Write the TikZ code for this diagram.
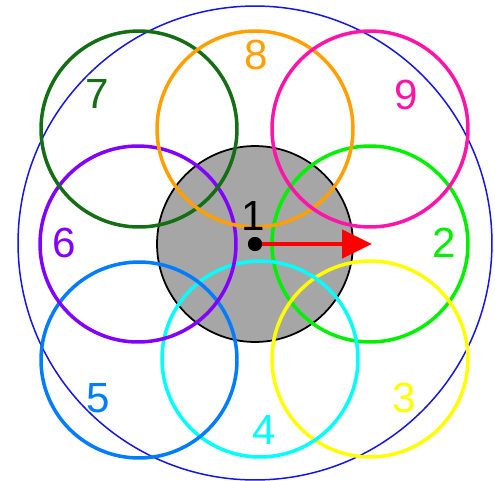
\documentclass[tikz,border=0pt]{standalone}
\usepackage{fontspec}
\setmainfont{Liberation Sans}
\usepackage{tikz}
\usetikzlibrary{arrows.meta}

\definecolor{outerblue}{RGB}{20,20,230}
\definecolor{coregray}{RGB}{166,166,166}
\definecolor{ctwo}{RGB}{0,240,0}
\definecolor{cthree}{RGB}{255,255,0}
\definecolor{cfour}{RGB}{0,255,255}
\definecolor{cfive}{RGB}{0,125,255}
\definecolor{csix}{RGB}{130,0,255}
\definecolor{cseven}{RGB}{20,110,20}
\definecolor{ceight}{RGB}{255,160,0}
\definecolor{cnine}{RGB}{255,20,170}

\begin{document}
\begin{tikzpicture}[
  x=0.02cm, y=-0.02cm,
  every node/.style={font=\fontsize{24}{28}\selectfont},
  ring/.style={circle,draw=#1,line width=2pt,minimum size=3.92cm,inner sep=0pt},
  core/.style={circle,draw=black,fill=coregray,line width=1pt,minimum size=3.92cm,inner sep=0pt},
  num/.style={text=#1,inner sep=0pt},
  hub/.style={circle,fill=black,minimum size=0.28cm,inner sep=0pt},
  arr/.style={-{Triangle[length=0.6cm,width=0.56cm]},red,line width=2.6pt}
]
\useasboundingbox (0,0) rectangle (495,481);

\node[circle,draw=outerblue,line width=0.85pt,minimum size=9.48cm,inner sep=0pt] (outer) at (255,243) {};
\node[core] (core) at (255,244) {};

% the eight cells round the core
\node[ring=ctwo] (ring2) at (370,244) {};
\node[ring=cthree] (ring3) at (370,359) {};
\node[ring=cfour] (ring4) at (260,359) {};
\node[ring=cfive] (ring5) at (139,360) {};
\node[ring=csix] (ring6) at (138,244) {};
\node[ring=cseven] (ring7) at (139,129) {};
\node[ring=ceight] (ring8) at (255,129) {};
\node[ring=cnine] (ring9) at (370,129) {};

\node[num=black] (lab1) at (253,216) {1};
\node[num=ctwo] (lab2) at (444,243) {2};
\node[num=cthree] (lab3) at (404,398) {3};
\node[num=cfour] (lab4) at (264,430) {4};
\node[num=cfive] (lab5) at (98,398) {5};
\node[num=csix] (lab6) at (64,243) {6};
\node[num=cseven] (lab7) at (97,94) {7};
\node[num=ceight] (lab8) at (256,55) {8};
\node[num=cnine] (lab9) at (406,95) {9};

\coordinate (tip) at (372,244);
\node[hub] (hub) at (255,244) {};
\draw[arr] (hub.center) -- (tip);
\node[hub] at (hub) {};
\end{tikzpicture}
\end{document}
